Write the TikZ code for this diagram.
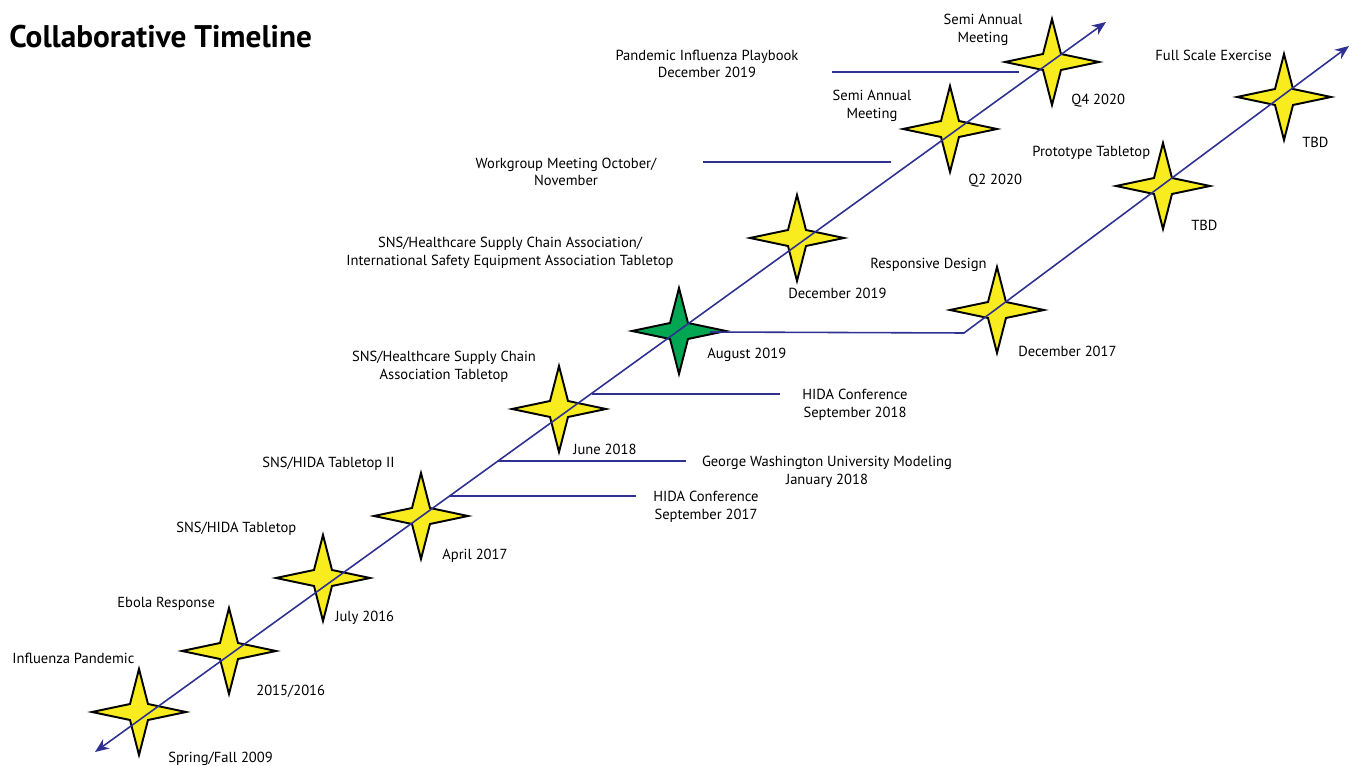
\documentclass[tikz,border=0pt]{standalone}
\usepackage{fontspec}
\setmainfont{PT Sans}
\usepackage{xcolor}
\definecolor{lineblue}{RGB}{46,49,146}
\definecolor{staryellow}{RGB}{248,236,30}
\definecolor{stargreen}{RGB}{0,166,81}
\usepackage{tikz}
\usetikzlibrary{arrows.meta, positioning}

\begin{document}
\begin{tikzpicture}[
  x=0.02cm, y=-0.02cm,
  sparkle/.pic={\path[pic actions] (-47,0) -- (-9,-8) -- (0,-43) -- (9,-8) -- (47,0) -- (9,8) -- (0,43) -- (-9,8) -- cycle;},
  event/.style={fill=staryellow, draw=black, line width=1.1pt, line join=miter},
  milestone/.style={fill=stargreen, draw=black, line width=1.1pt, line join=miter},
  timeline/.style={draw=lineblue, line width=0.9pt},
  arr/.tip={Stealth[length=8pt, width=6.5pt]},
  lbl/.style={font=\fontsize{8.3}{10.2}\selectfont, inner sep=0pt, anchor=west, yshift=-1.1pt},
  note/.style={font=\fontsize{8.3}{10.2}\selectfont, inner sep=0pt, align=center, yshift=-1.1pt}
]
\useasboundingbox (0,0) rectangle (1353,766);

% Title
\node[anchor=west, inner sep=0pt, font=\bfseries\fontsize{17.8}{20}\selectfont] (title) at (9,37) {Collaborative Timeline};

% Stars
\pic[event] at (139,712) {sparkle};
\pic[event] at (229,651) {sparkle};
\pic[event] at (323,578) {sparkle};
\pic[event] at (421,516) {sparkle};
\pic[event] at (559,409) {sparkle};
\pic[milestone] at (679,331) {sparkle};
\pic[event] at (797,238) {sparkle};
\pic[event] at (950,129) {sparkle};
\pic[event] at (1052,62) {sparkle};
\pic[event] at (997,310) {sparkle};
\pic[event] at (1163,186) {sparkle};
\pic[event] at (1284,97) {sparkle};

% Line ends
\coordinate (start) at (95,752);
\coordinate (finish) at (1106,22);
\coordinate (fork) at (710,332);
\coordinate (bend) at (964,333);
\coordinate (finish2) at (1349,46);

\coordinate (playA) at (832,72);   \coordinate (playB) at (1019,72);
\coordinate (workA) at (703,162);  \coordinate (workB) at (891,162);
\coordinate (hidaA) at (592,394);  \coordinate (hidaB) at (780,394);
\coordinate (gwuA) at (498,461);   \coordinate (gwuB) at (686,461);
\coordinate (hidbA) at (449,496);  \coordinate (hidbB) at (636,496);

% Lines
\draw[timeline, arr-arr] (start) -- (finish);
\draw[timeline, -arr] (fork) -- (bend) -- (finish2);
\draw[timeline] (playA) -- (playB);
\draw[timeline] (workA) -- (workB);
\draw[timeline] (hidaA) -- (hidaB);
\draw[timeline] (gwuA) -- (gwuB);
\draw[timeline] (hidbA) -- (hidbB);

% Labels
\node[lbl] (flu) at (12,656) {Influenza Pandemic};
\node[lbl] (flud) at (168,757) {Spring/Fall 2009};
\node[lbl] (ebola) at (117,602) {Ebola Response};
\node[lbl] (ebolad) at (256,689) {2015/2016};
\node[lbl] (tt1) at (176,527) {SNS/HIDA Tabletop};
\node[lbl] (tt1d) at (335,616) {July 2016};
\node[lbl] (tt2) at (262,462) {SNS/HIDA Tabletop II};
\node[lbl] (tt2d) at (442,554) {April 2017};
\node[note] (hidb) at (706,505) {HIDA Conference\\September 2017};
\node[note] (gwu) at (827,470) {George Washington University Modeling\\January 2018};
\node[note] (hsca) at (444,365) {SNS/Healthcare Supply Chain\\Association Tabletop};
\node[lbl] (hscad) at (573,447) {June 2018};
\node[note] (hida) at (855,403) {HIDA Conference\\September 2018};
\node[lbl] (augd) at (707,353) {August 2019};
\node[note] (isea) at (510,251) {SNS/Healthcare Supply Chain Association/\\International Safety Equipment Association Tabletop};
\node[lbl] (isead) at (788,291) {December 2019};
\node[note] (work) at (566,170) {Workgroup Meeting October/\\November};
\node[note] (semi1) at (872,104) {Semi Annual\\Meeting};
\node[lbl] (semi1d) at (968,179) {Q2 2020};
\node[note] (play) at (707,62) {Pandemic Influenza Playbook\\December 2019};
\node[note] (semi2) at (983,28) {Semi Annual\\Meeting};
\node[lbl] (semi2d) at (1071,99) {Q4 2020};
\node[lbl] (resp) at (870,263) {Responsive Design};
\node[lbl] (respd) at (1018,349) {December 2017};
\node[lbl] (proto) at (1032,151) {Prototype Tabletop};
\node[lbl] (protod) at (1191,223) {TBD};
\node[lbl] (full) at (1155,53) {Full Scale Exercise};
\node[lbl] (fulld) at (1302,140) {TBD};

\end{tikzpicture}
\end{document}
